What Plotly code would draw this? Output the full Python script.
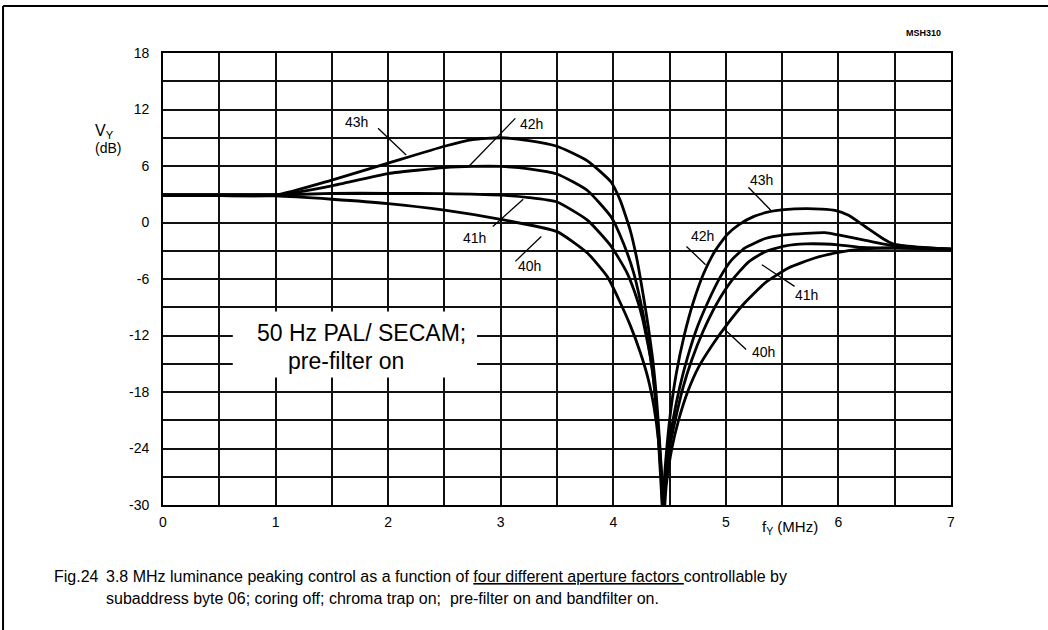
import plotly.graph_objects as go

FONT = "Liberation Sans, Arial, Helvetica, sans-serif"

# ---- data (f in MHz, V in dB) ----
x_43h = [0, 0.5, 1.0, 1.5, 2.0, 2.5, 2.75, 3.0, 3.25, 3.5, 3.77, 3.98, 4.06, 4.15, 4.21, 4.27, 4.31, 4.35, 4.38, 4.41, 4.43, 4.445,
         4.45, 4.475, 4.51, 4.56, 4.63, 4.71, 4.80, 4.90, 5.01, 5.12, 5.25, 5.38, 5.52, 5.71, 5.85, 5.97, 6.09, 6.24, 6.39, 6.49, 6.69, 7.0]
y_43h = [2.85, 2.85, 2.9, 4.5, 6.3, 8.1, 8.8, 9.0, 8.7, 8.1, 6.55, 4.3, 2.4, -0.8, -3.9, -8.0, -11.0, -14.5, -18.0, -23.0, -27.0, -32.0,
         -28.0, -24.0, -20.0, -16.0, -12.0, -8.5, -5.5, -3.1, -1.3, -0.2, 0.65, 1.12, 1.36, 1.47, 1.42, 1.29, 0.77, -0.45, -1.67, -2.3, -2.6, -2.83]

x_42h = [0, 0.5, 1.0, 1.5, 2.0, 2.5, 2.75, 3.0, 3.25, 3.5, 3.77, 3.98, 4.09, 4.18, 4.24, 4.29, 4.33, 4.37, 4.40, 4.43, 4.445,
         4.455, 4.49, 4.53, 4.59, 4.66, 4.75, 4.85, 4.95, 5.05, 5.17, 5.35, 5.52, 5.71, 5.88, 6.0, 6.24, 6.49, 7.0]
y_42h = [2.85, 2.85, 2.9, 3.9, 5.2, 5.82, 5.95, 5.95, 5.7, 5.15, 3.4, 0.6, -2.2, -5.3, -8.3, -11.3, -14.3, -18.0, -22.0, -27.0, -32.0,
         -28.0, -24.0, -21.0, -17.5, -14.3, -11.0, -8.2, -5.8, -4.0, -2.7, -1.7, -1.32, -1.15, -1.08, -1.32, -1.9, -2.48, -2.83]

x_41h = [0, 0.5, 1.0, 1.5, 2.0, 2.5, 3.0, 3.25, 3.5, 3.77, 3.98, 4.12, 4.21, 4.26, 4.34, 4.39, 4.42, 4.445,
         4.46, 4.50, 4.55, 4.62, 4.70, 4.80, 4.92, 5.05, 5.20, 5.35, 5.52, 5.71, 6.0, 6.21, 6.49, 7.0]
y_41h = [2.85, 2.85, 2.9, 3.1, 3.1, 3.07, 2.9, 2.65, 2.18, 0.26, -2.5, -5.3, -8.1, -10.2, -15.0, -21.0, -27.0, -32.0,
         -28.0, -24.0, -21.0, -17.5, -14.5, -11.5, -8.6, -6.2, -4.2, -3.1, -2.5, -2.27, -2.37, -2.65, -2.72, -2.83]

x_40h = [0, 0.5, 1.0, 1.5, 2.0, 2.5, 3.0, 3.5, 3.77, 3.95, 4.05, 4.15, 4.24, 4.31, 4.36, 4.40, 4.43, 4.445,
         4.47, 4.52, 4.58, 4.66, 4.76, 4.88, 5.0, 5.17, 5.35, 5.56, 5.79, 6.0, 6.21, 6.49, 7.0]
y_40h = [2.85, 2.85, 2.82, 2.47, 2.01, 1.31, 0.33, -0.97, -3.24, -5.8, -8.2, -10.9, -13.8, -16.6, -19.5, -23.0, -28.0, -32.0,
         -28.0, -24.0, -21.0, -18.0, -15.3, -13.0, -11.0, -8.5, -6.4, -4.8, -3.77, -3.17, -2.83, -2.69, -2.83]

series = [("43h", x_43h, y_43h), ("42h", x_42h, y_42h), ("41h", x_41h, y_41h), ("40h", x_40h, y_40h)]

x_ticks = [0, 1, 2, 3, 4, 5, 6, 7]
y_ticks = [-30, -24, -18, -12, -6, 0, 6, 12, 18]
y_ticktext = [str(v) for v in y_ticks]

# curve labels: (text, label x, label y, pointer x0, y0, x1, y1)
curve_labels = [
    ("43h", 1.72, 10.7, 1.91, 10.0, 2.16, 7.17),
    ("42h", 3.27, 10.5, 3.13, 11.06, 2.72, 6.0),
    ("41h", 2.77, -1.62, 2.93, -0.42, 3.20, 2.48),
    ("40h", 3.26, -4.66, 3.13, -4.13, 3.36, -1.48),
    ("43h", 5.32, 4.52, 5.20, 3.75, 5.41, 1.17),
    ("42h", 4.79, -1.48, 4.65, -2.54, 4.82, -4.48),
    ("41h", 5.72, -7.66, 5.32, -4.48, 5.61, -6.78),
    ("40h", 5.33, -13.77, 4.99, -11.37, 5.18, -13.49),
]

fig = go.Figure()
for name, xs, ys in series:
    fig.add_trace(go.Scatter(x=xs, y=ys, mode="lines", name=name,
                             line=dict(color="black", width=2.8, shape="spline", smoothing=0.5),
                             showlegend=False, hoverinfo="skip"))

GRID = "#111111"
GW = 1.5
fig.update_xaxes(range=[0, 7], tickvals=x_ticks, showgrid=True, gridcolor=GRID, gridwidth=GW,
                 minor=dict(dtick=0.5, showgrid=True, gridcolor=GRID, gridwidth=GW),
                 showline=True, linecolor="black", linewidth=1.8, mirror=True, zeroline=False,
                 ticks="", ticklabelstandoff=3, tickfont=dict(family=FONT, size=14, color="black"))
fig.update_yaxes(range=[-30, 18], tickvals=y_ticks, ticktext=y_ticktext, showgrid=True, gridcolor=GRID, gridwidth=GW,
                 minor=dict(dtick=3, showgrid=True, gridcolor=GRID, gridwidth=GW),
                 showline=True, linecolor="black", linewidth=1.8, mirror=True, zeroline=False,
                 ticks="", ticklabelstandoff=9, tickfont=dict(family=FONT, size=14, color="black"))

# white box behind the mode text
fig.add_shape(type="rect", xref="x", yref="y", x0=0.62, x1=2.79, y0=-16.45, y1=-9.46,
              fillcolor="white", line=dict(width=0), layer="above")

for t, lx, ly, x0, y0, x1, y1 in curve_labels:
    fig.add_shape(type="line", xref="x", yref="y", x0=x0, y0=y0, x1=x1, y1=y1,
                  line=dict(color="black", width=1.3), layer="above")
    fig.add_annotation(x=lx, y=ly, xref="x", yref="y", text=t, showarrow=False,
                       font=dict(family=FONT, size=14, color="black"))

fig.add_annotation(x=1.76, y=-11.7, xref="x", yref="y", text="50 Hz PAL/ SECAM;", showarrow=False,
                   font=dict(family=FONT, size=23, color="black"))
fig.add_annotation(x=1.63, y=-14.7, xref="x", yref="y", text="pre-filter on", showarrow=False,
                   font=dict(family=FONT, size=23, color="black"))

# outer frame (left + top)
fig.add_shape(type="line", xref="paper", yref="paper", x0=-0.203, x1=-0.203, y0=-0.28, y1=1.104,
              line=dict(color="black", width=2))
fig.add_shape(type="line", xref="paper", yref="paper", x0=-0.203, x1=1.13, y0=1.104, y1=1.104,
              line=dict(color="black", width=2))

# axis titles and other text
fig.add_annotation(x=-0.0888, y=0.826, xref="paper", yref="paper", text="V<sub>Y</sub>", showarrow=False,
                   xanchor="left", yanchor="middle", font=dict(family=FONT, size=16, color="black"))
fig.add_annotation(x=-0.0888, y=0.789, xref="paper", yref="paper", text="(dB)", showarrow=False,
                   xanchor="left", yanchor="middle", font=dict(family=FONT, size=14, color="black"))
fig.add_annotation(x=0.796, y=-0.05, xref="paper", yref="paper", text="f<sub>Y</sub> (MHz)", showarrow=False,
                   xanchor="center", yanchor="middle", font=dict(family=FONT, size=15, color="black"))
fig.add_annotation(x=0.99, y=1.044, xref="paper", yref="paper", text="<b>MSH310</b>", showarrow=False,
                   xanchor="right", yanchor="middle", font=dict(family=FONT, size=9, color="black"))

fig.add_annotation(x=-0.1409, y=-0.159, xref="paper", yref="paper", text="Fig.24", showarrow=False,
                   xanchor="left", yanchor="middle", font=dict(family=FONT, size=16, color="black"))
fig.add_annotation(x=-0.0749, y=-0.159, xref="paper", yref="paper",
                   text="3.8 MHz luminance peaking control as a function of <u>four different aperture factors </u>controllable by",
                   showarrow=False, xanchor="left", yanchor="middle", font=dict(family=FONT, size=16, color="black"))
fig.add_annotation(x=-0.0749, y=-0.206, xref="paper", yref="paper",
                   text="subaddress byte 06; coring off; chroma trap on;  pre-filter on and bandfilter on.",
                   showarrow=False, xanchor="left", yanchor="middle", font=dict(family=FONT, size=16, color="black"))

fig.update_layout(width=1048, height=630, margin=dict(l=163, r=97, t=53, b=125),
                  paper_bgcolor="white", plot_bgcolor="white", showlegend=False,
                  font=dict(family=FONT, color="black"))

fig.write_html("out.html", config={"displayModeBar": False},
               post_script="document.body.style.margin='0';document.body.style.overflow='hidden';")
